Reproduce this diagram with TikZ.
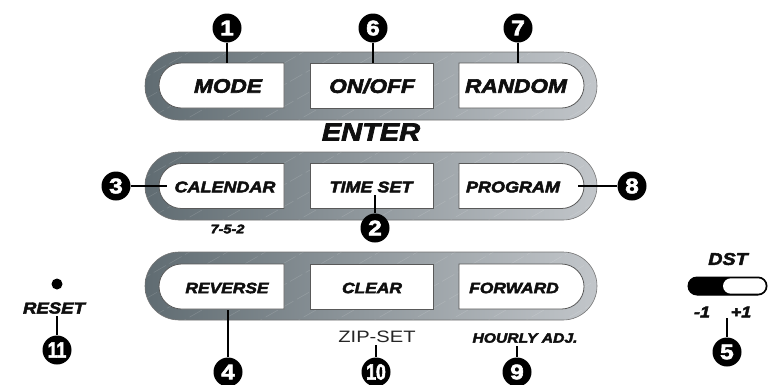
\documentclass[tikz,border=0pt]{standalone}
\usepackage{fontspec}
\usetikzlibrary{shapes.misc}
\setmainfont{Liberation Sans}
\newfontfamily\hv[FakeStretch=1.16, BoldFeatures={FakeBold=3}, BoldItalicFeatures={FakeBold=3}]{Liberation Sans}
\newfontfamily\hvn[FakeStretch=0.8, BoldFeatures={FakeBold=2.5}]{Liberation Sans}
\newfontfamily\hvz[FakeStretch=1.22]{Liberation Sans}
\definecolor{capL}{RGB}{96,108,114}
\definecolor{capR}{RGB}{194,198,202}
\definecolor{ink}{RGB}{15,15,15}
\newcommand\capsulebox[1]{%
  \begin{scope}
    \clip[rounded corners=34pt] (145,#1-34) rectangle (597,#1+34);
    \shade[left color=capL, right color=capR] (145,#1-34) rectangle (597,#1+34);
    \foreach \hx in {60,98,...,640}
      \draw[white, opacity=0.16, line width=0.5pt, dash pattern=on 14pt off 4pt] (\hx,#1+40) -- ++(140,-80);
  \end{scope}
  \draw[black!55, line width=0.6pt, rounded corners=34pt] (145,#1-34) rectangle (597,#1+34);
}
\begin{document}
\begin{tikzpicture}[x=1pt,y=-1pt,
  btn/.style={draw=black!65, line width=0.8pt, fill=white, minimum width=125pt, minimum height=45pt, inner sep=0pt},
  lbtn/.style={btn, shape=rounded rectangle, rounded rectangle right arc=none},
  rbtn/.style={btn, shape=rounded rectangle, rounded rectangle left arc=none},
  mbtn/.style={btn, shape=rectangle, minimum width=123pt},
  lab/.style={text=ink, inner sep=0pt, font=\hv\bfseries\itshape\fontsize{#1}{#1}\selectfont},
  lab/.default=15,
  num/.style={circle, fill=black, text=white, minimum size=29pt, inner sep=0pt, font=\hv\bfseries\fontsize{21}{21}\selectfont},
  numn/.style={num, font=\hvn\bfseries\fontsize{22}{22}\selectfont},
  lead/.style={line width=1.6pt, black},
  dot/.style={circle, fill=black, minimum size=11pt, inner sep=0pt}
]
\useasboundingbox (0,0) rectangle (776,384);

% capsules
\capsulebox{86}
\capsulebox{186}
\capsulebox{286}

% buttons row 1
\node[lbtn] (bmode) at (221.5,85.5) {};
\node[mbtn] (bon) at (371.5,85.5) {};
\node[rbtn] (brand) at (521.5,85.5) {};
\node[lab=19.5] (tmode) at (228,86) {MODE};
\node[lab=19.5] (ton) at (372,86) {ON/OFF};
\node[lab=19.5] (trand) at (516,86) {RANDOM};

% buttons row 2
\node[lbtn] (bcal) at (221.5,186) {};
\node[mbtn] (btime) at (371.5,186) {};
\node[rbtn] (bprog) at (521.5,186) {};
\node[lab=15.5] (tcal) at (225,187) {CALENDAR};
\node[lab=15.5] (ttime) at (371,187) {TIME SET};
\node[lab=15.5] (tprog) at (513,187) {PROGRAM};

% buttons row 3
\node[lbtn] (brev) at (221.5,286.5) {};
\node[mbtn] (bclr) at (371.5,286.5) {};
\node[rbtn] (bfwd) at (521.5,286.5) {};
\node[lab=15] (trev) at (227,288) {REVERSE};
\node[lab=15] (tclr) at (372,288) {CLEAR};
\node[lab=15] (tfwd) at (514,288) {FORWARD};

% other texts
\node[lab=25] (enter) at (371,132) {ENTER};
\node[lab=12.5] (t752) at (227.5,229) {7-5-2};
\node[inner sep=0pt, text=black!85, font=\hvz\fontsize{16.5}{16.5}\selectfont] (zip) at (377,337) {ZIP-SET};
\node[lab=13.5] (hourly) at (525,338) {HOURLY ADJ.};
\node[lab=16] (reset) at (54,308) {RESET};
\node[dot] (rdot) at (57,284) {};
\node[lab=17] (dst) at (728,259) {DST};
\node[lab=15.5] (m1) at (702,312) {-1};
\node[lab=15.5] (p1) at (741,312) {+1};

% DST switch
\draw[fill=black, line width=1pt, rounded corners=9pt] (688,277) rectangle (767,295);
\fill[white, rounded corners=7.8pt] (723,278.3) rectangle (765.7,293.7);

% numbered circles
\node[num] (c1) at (227,28) {1};
\node[num] (c6) at (373,28) {6};
\node[num] (c7) at (518,28) {7};
\node[num] (c3) at (116,186) {3};
\node[num] (c8) at (632,186) {8};
\node[num] (c2) at (375,228) {2};
\node[num] (c4) at (228,372) {4};
\node[numn] (c10) at (376,372) {10};
\node[num] (c9) at (517,372) {9};
\node[numn] (c11) at (57,350) {11};
\node[num] (c5) at (727,352) {5};

% leader end points
\coordinate (e2) at (375,195);
\coordinate (e10) at (376,345);
\coordinate (e9) at (517,346);
\coordinate (e11) at (57,316);
\coordinate (e5) at (727,318);

% leaders
\draw[lead] (c1) -- (c1 |- bmode.north);
\draw[lead] (c6) -- (c6 |- bon.north);
\draw[lead] (c7) -- (c7 |- brand.north);
\draw[lead] (c3) -- ([xshift=8pt]bcal.west);
\draw[lead] (c8) -- ([xshift=-6pt]bprog.east);
\draw[lead] (e2) -- (c2);
\draw[lead] (c4) -- ([yshift=-1pt]c4 |- brev.south);
\draw[lead] (e10) -- (c10);
\draw[lead] (e9) -- (c9);
\draw[lead] (e11) -- (c11);
\draw[lead] (e5) -- (c5);
\end{tikzpicture}
\end{document}
